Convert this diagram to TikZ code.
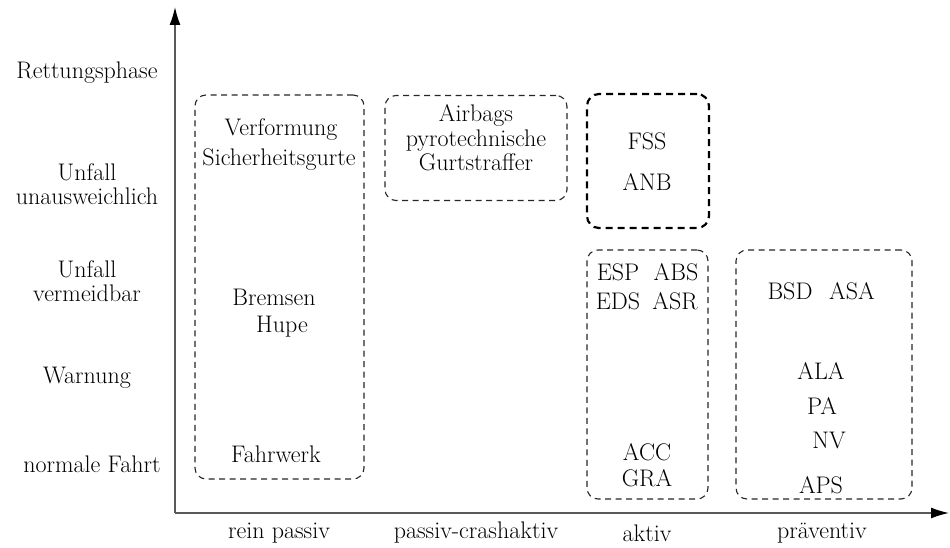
\documentclass[tikz,border=0pt]{standalone}
\usetikzlibrary{arrows.meta}
\begin{document}
\begin{tikzpicture}[x=1pt,y=-1pt,
  lbl/.style={font=\fontsize{24}{24.5}\selectfont, inner sep=0pt, text=black, align=center},
  grp/.style={draw=black!85, line width=1.1pt, dash pattern=on 6pt off 4.5pt, rounded corners=11pt, inner sep=0pt},
  grpthick/.style={draw=black, line width=2.2pt, dash pattern=on 7pt off 5pt, rounded corners=12pt, inner sep=0pt},
  axis/.style={draw=black!65, line width=1.4pt, -{Latex[length=18pt,width=11pt,fill=black,color=black]}}]
\useasboundingbox (0,0) rectangle (950,548);
% axes
\coordinate (O) at (175,513);
\coordinate (ytop) at (175,7);
\coordinate (xend) at (949,513);
\draw[axis] (O) -- (ytop);
\draw[axis] (O) -- (xend);
% group boxes
\node[grp, minimum width=169pt, minimum height=384pt] (b1) at (279.5,287) {};
\node[grp, minimum width=182pt, minimum height=105pt] (b2) at (476,148) {};
\node[grpthick, minimum width=122pt, minimum height=134pt] (b3) at (648,161) {};
\node[grp, minimum width=121pt, minimum height=249pt] (b4) at (647.5,374.5) {};
\node[grp, minimum width=176pt, minimum height=249pt] (b5) at (824,374.5) {};
% y labels
\node[lbl] (ry1) at (87,73) {Rettungsphase};
\node[lbl] (ry2) at (87,184) {Unfall\\unausweichlich};
\node[lbl] (ry3) at (87,281) {Unfall\\vermeidbar};
\node[lbl] (ry4) at (87,378) {Warnung};
\node[lbl] (ry5) at (92,464) {normale Fahrt};
% x labels
\node[lbl] (cx1) at (279,533) {rein passiv};
\node[lbl] (cx2) at (476,533) {passiv-crashaktiv};
\node[lbl] (cx3) at (647,533) {aktiv};
\node[lbl] (cx4) at (822,533) {pr\"aventiv};
% box 1
\node[lbl] (t1) at (281,130) {Verformung};
\node[lbl] (t2) at (279,160) {Sicherheitsgurte};
\node[lbl] (t3) at (274,297) {Bremsen};
\node[lbl] (t4) at (282,327) {Hupe};
\node[lbl] (t5) at (276,454) {Fahrwerk};
% box 2
\node[lbl] (t6) at (476,138) {Airbags\\pyrotechnische\\Gurtstraffer};
% box 3
\node[lbl] (t7) at (647,141) {FSS};
\node[lbl] (t8) at (647,182) {ANB};
% box 4
\node[lbl] (t9) at (618,272) {ESP};
\node[lbl] (t10) at (676,272) {ABS};
\node[lbl] (t11) at (618,301) {EDS};
\node[lbl] (t12) at (675,301) {ASR};
\node[lbl] (t13) at (647,452) {ACC};
\node[lbl] (t14) at (647,478) {GRA};
% box 5
\node[lbl] (t15) at (790,291) {BSD};
\node[lbl] (t16) at (852,291) {ASA};
\node[lbl] (t17) at (821,371) {ALA};
\node[lbl] (t18) at (822,406) {PA};
\node[lbl] (t19) at (829,440) {NV};
\node[lbl] (t20) at (821,485) {APS};
\end{tikzpicture}
\end{document}
